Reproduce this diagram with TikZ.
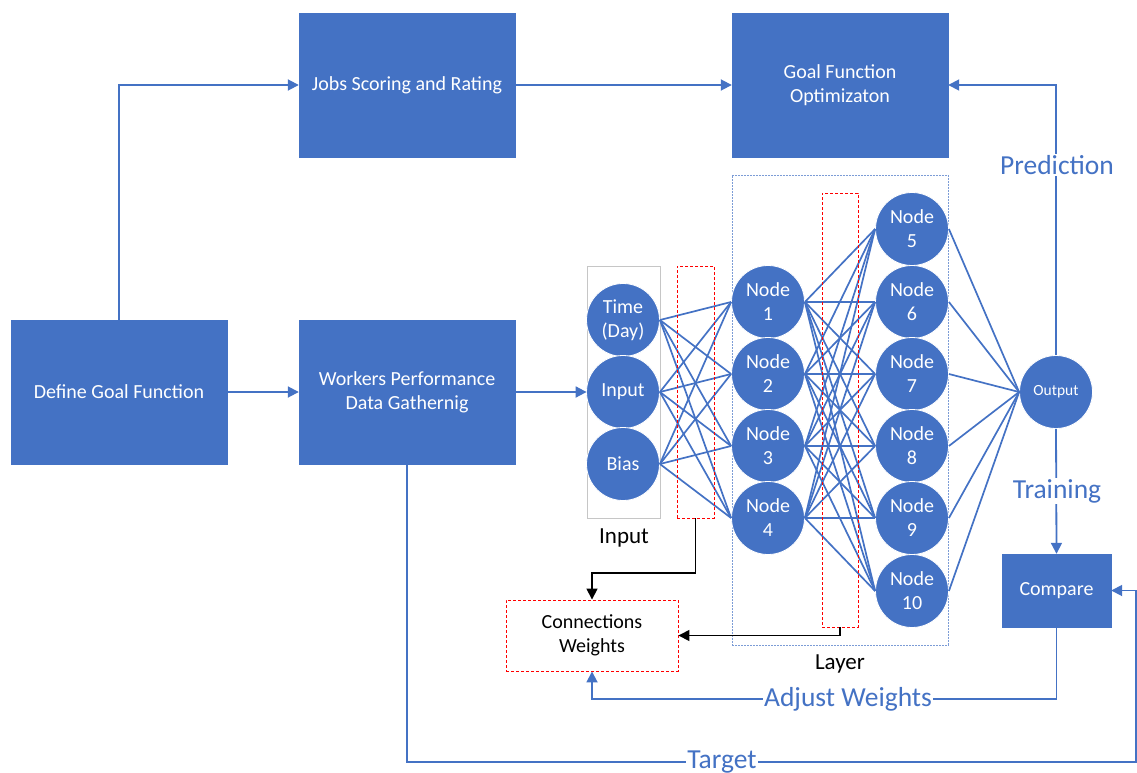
\documentclass[tikz,border=0pt]{standalone}
\usepackage{fontspec}
\setmainfont{Carlito}
\usetikzlibrary{arrows.meta,calc}
\definecolor{bl}{HTML}{4472C4}
\begin{document}
\begin{tikzpicture}[x=1pt,y=-1pt,
  box/.style={rectangle, fill=bl, draw=bl, text=white, minimum width=216pt, minimum height=144pt, inner sep=0pt, align=center, font=\fontsize{20}{24}\selectfont},
  neuron/.style={circle, fill=bl, draw=white, line width=0.8pt, minimum size=73pt, inner sep=0pt, text=white, align=center, font=\fontsize{20}{24}\selectfont},
  conn/.style={draw=bl, line width=1.7pt},
  flow/.style={draw=bl, line width=1.8pt, -{Triangle[length=11pt,width=11pt]}},
  blk/.style={draw=black, line width=1.6pt, -{Triangle[length=11pt,width=11pt]}},
  redbox/.style={draw=red, dashed, dash pattern=on 3pt off 2pt, line width=0.9pt, inner sep=0pt},
  lbl/.style={fill=white, text=bl, font=\fontsize{27.5}{30}\selectfont, inner sep=1.5pt},
  captext/.style={text=black, font=\fontsize{23}{26}\selectfont, inner sep=0pt}
]
\useasboundingbox (0,0) rectangle (1137,773);

% containers
\node[draw=bl!70, dash pattern=on 2pt off 1pt, line width=0.6pt, minimum width=216pt, minimum height=470pt, inner sep=0pt] (layerbox) at (840,410) {};
\node[draw=gray!45, line width=0.8pt, minimum width=73pt, minimum height=252pt, inner sep=0pt] (inbox) at (623.5,392) {};

% boxes
\node[box] (define) at (119,392) {Define Goal Function};
\node[box] (jobs) at (407,85) {Jobs Scoring and Rating};
\node[box] (workers) at (407,392) {Workers Performance\\Data Gathernig};
\node[box] (goal) at (840,85) {Goal Function\\Optimizaton};

% neurons
\node[neuron] (tday) at (623,320) {Time\\(Day)};
\node[neuron] (inp) at (623,392) {Input};
\node[neuron] (bias) at (623,464) {Bias};
\node[neuron] (n1) at (768,302) {Node\\1};
\node[neuron] (n2) at (768,374) {Node\\2};
\node[neuron] (n3) at (768,446) {Node\\3};
\node[neuron] (n4) at (768,518) {Node\\4};
\node[neuron] (n5) at (912,229) {Node\\5};
\node[neuron] (n6) at (912,302) {Node\\6};
\node[neuron] (n7) at (912,374) {Node\\7};
\node[neuron] (n8) at (912,446) {Node\\8};
\node[neuron] (n9) at (912,518) {Node\\9};
\node[neuron] (n10) at (912,591) {Node\\10};
\node[neuron, font=\fontsize{15.5}{18}\selectfont] (out) at (1056,392) {Output};

% connections
\foreach \a in {tday,inp,bias}{
  \foreach \b in {n1,n2,n3,n4}{
    \draw[conn] (\a.east) -- (\b.west);
  }
}
\foreach \a in {n1,n2,n3,n4}{
  \foreach \b in {n5,n6,n7,n8,n9,n10}{
    \draw[conn] (\a.east) -- (\b.west);
  }
}
\foreach \a in {n5,n6,n7,n8,n9,n10}{
  \draw[conn] (\a.east) -- (out.west);
}

% red dashed boxes
\node[redbox, minimum width=37pt, minimum height=252pt] (red1) at (695.5,392) {};
\node[redbox, minimum width=36pt, minimum height=434pt] (red2) at (840,410) {};
\node[redbox, minimum width=172pt, minimum height=71pt, align=center, font=\fontsize{20}{24}\selectfont] (cw) at (592,635.5) {Connections\\Weights};

% compare
\node[box, minimum width=109pt, minimum height=73pt] (compare) at (1056.5,590.5) {Compare};

% captions
\node[captext] (incap) at (624,538) {Input};
\node[captext] (laycap) at (840,664) {Layer};

% flows
\draw[flow] (define.north) |- (jobs.west);
\draw[flow] (define.east) -- (workers.west);
\draw[flow] (jobs.east) -- (goal.west);
\draw[flow] (workers.east) -- (inbox.west);
\draw[flow] (out.north) |- (goal.east);
\draw[flow] (out.south) -- (compare.north);
\coordinate (aw) at (1056.5,699);
\draw[flow] (compare.south) -- (aw) -| (cw.south);
\coordinate (t1) at (407,762);
\coordinate (t2) at (1136,762);
\draw[flow] (workers.south) -- (t1) -- (t2) |- (compare.east);

% black arrows
\coordinate (b1) at (695.5,573);
\draw[blk] (red1.south) -- (b1) -| (cw.north);
\draw[blk] (red2.south) |- (cw.east);

% flow labels
\node[lbl] (lpred) at (1057,165) {Prediction};
\node[lbl] (ltrain) at (1057,491) {Training};
\node[lbl] (ladj) at (848,699) {Adjust Weights};
\node[lbl] (ltarget) at (722,762) {Target};
\end{tikzpicture}
\end{document}
